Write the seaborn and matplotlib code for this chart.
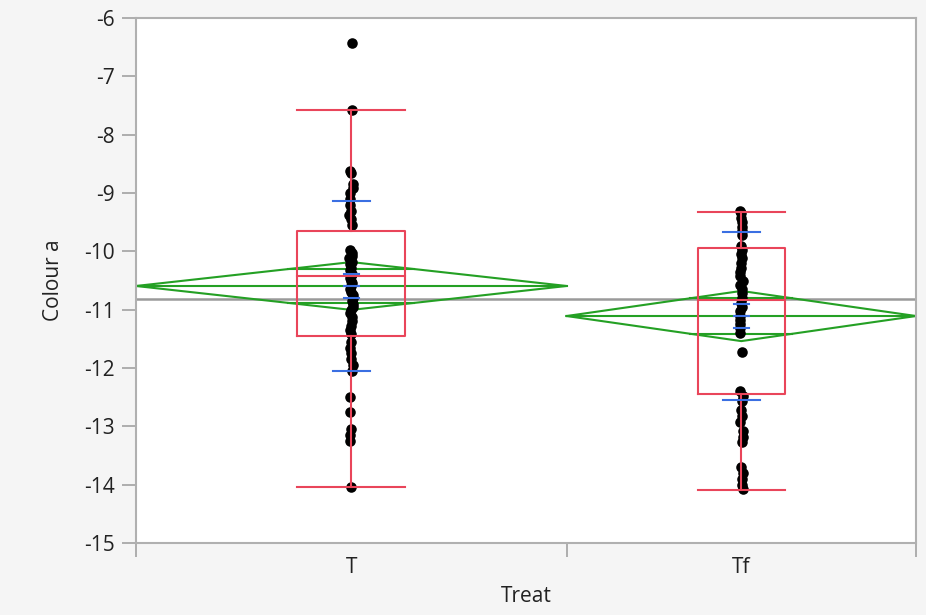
import numpy as np
import pandas as pd
import seaborn as sns
import matplotlib.pyplot as plt

# Datos (valores de Colour a por tratamiento)
grupos = ["T", "Tf"]
valores_T = [-6.43, -7.57,
             -8.62, -8.66, -8.85, -8.92, -9.0, -9.1, -9.2, -9.3, -9.38, -9.45, -9.55,
             -9.97, -10.02, -10.08, -10.12, -10.18, -10.22, -10.28, -10.32, -10.38, -10.42,
             -10.45, -10.5, -10.55, -10.6, -10.65, -10.7, -10.75, -10.8, -10.85, -10.9,
             -10.95, -11.0,
             -11.05, -11.12, -11.2, -11.28, -11.35, -11.42,
             -11.55, -11.65, -11.75, -11.85, -11.95, -12.05,
             -12.5, -12.75, -13.05, -13.15, -13.25, -14.04]
valores_Tf = [-9.3, -9.35, -9.42, -9.5, -9.58, -9.65, -9.72,
              -9.9, -9.98, -10.05, -10.12, -10.2, -10.28, -10.35, -10.42, -10.5, -10.58,
              -10.65, -10.72, -10.8, -10.88, -10.95, -11.02, -11.1, -11.18, -11.25, -11.32,
              -11.4,
              -11.72,
              -12.4, -12.48, -12.56, -12.72, -12.82, -12.92, -13.08, -13.18, -13.26,
              -13.7, -13.8, -13.9, -14.0, -14.08]

# Resumenes
medias = [-10.594, -11.109]
ic95 = [0.41, 0.43]            # media +/- IC (diamantes)
errores = [0.2, 0.21]          # barras de error de la media
desv = [1.45, 1.44]            # lineas de desviacion estandar
q1 = [-11.45, -12.45]
medianas = [-10.43, -10.83]
q3 = [-9.65, -9.94]
bigote_bajo = [-14.04, -14.09]
bigote_alto = [-7.58, -9.33]
media_global = -10.82

df = pd.DataFrame({
    "Treat": ["T"] * len(valores_T) + ["Tf"] * len(valores_Tf),
    "Colour a": valores_T + valores_Tf,
})

# Ancho de cada grupo proporcional a su tamano (como en JMP)
n = np.array([len(valores_T), len(valores_Tf)])
frac = n[0] / n.sum()
medio_ancho = [frac, 1 - frac]
centros = [0, 1]

np.random.seed(3)
plt.rcParams['font.family'] = ['Open Sans', 'DejaVu Sans']
fig = plt.figure(figsize=(9.26, 6.15), dpi=100, facecolor="#f5f5f5")
ax = fig.add_axes([136 / 926, 72 / 615, 780 / 926, 525 / 615])
ax.set_facecolor("white")

rojo = "#e9455a"
verde = "#24a024"
azul = "#3a6fe2"
lw = 1.5

# linea de la media global
ax.axhline(media_global, color="#9a9a9a", lw=1.8, zorder=1)

# diamantes de medias
for c, w, m, ic in zip(centros, medio_ancho, medias, ic95):
    ax.plot([c - w, c, c + w, c, c - w], [m, m + ic, m, m - ic, m], color=verde, lw=lw, zorder=2)
    ax.plot([c - w, c + w], [m, m], color=verde, lw=lw, zorder=2)
    h = ic / np.sqrt(2)
    wo = w * (1 - h / ic)
    for s in (1, -1):
        ax.plot([c - wo, c + wo], [m + s * h, m + s * h], color=verde, lw=lw, zorder=2)

# puntos
sns.stripplot(data=df, x="Treat", y="Colour a", order=grupos, color="black",
              size=7.6, jitter=0.005, linewidth=0, ax=ax, zorder=3)

# cajas
for c, w, a, b, md, lo, hi in zip(centros, medio_ancho, q1, q3, medianas, bigote_bajo, bigote_alto):
    bw = w / 2
    ax.plot([c - bw / 2, c + bw / 2, c + bw / 2, c - bw / 2, c - bw / 2], [a, a, b, b, a],
            color=rojo, lw=lw, zorder=4)
    ax.plot([c - bw / 2, c + bw / 2], [md, md], color=rojo, lw=lw, zorder=4)
    ax.plot([c, c], [b, hi], color=rojo, lw=lw, zorder=4)
    ax.plot([c, c], [a, lo], color=rojo, lw=lw, zorder=4)
    for y in (lo, hi):
        ax.plot([c - bw / 2, c + bw / 2], [y, y], color=rojo, lw=lw, zorder=4)

# desviacion estandar y error de la media
for c, m, sd, se in zip(centros, medias, desv, errores):
    for y in (m - sd, m + sd):
        ax.plot([c - 0.048, c + 0.048], [y, y], color=azul, lw=lw, zorder=5)
    for y in (m - se, m, m + se):
        ax.plot([c - 0.02, c + 0.02], [y, y], color=azul, lw=lw, zorder=5)

# ejes
ax.set_xlim(-medio_ancho[0], 1 + medio_ancho[1])
ax.set_ylim(-15, -6)
ax.set_yticks(np.arange(-15, -5, 1))
ax.set_yticklabels([str(v) for v in range(-15, -5)])
ax.set_xticks([-medio_ancho[0], frac, 1 + medio_ancho[1]])
ax.set_xticklabels([])
ax.set_xticks(centros, minor=True)
ax.set_xticklabels(grupos, minor=True)
ax.tick_params(axis="both", which="major", length=10, width=1.3, color="#a8a8a8",
               labelsize=15, labelcolor="#222222")
ax.tick_params(axis="x", which="minor", length=0, labelsize=15, labelcolor="#222222", pad=10)
ax.tick_params(axis="y", pad=5)
for s in ax.spines.values():
    s.set_color("#b0b0b0")
    s.set_linewidth(1.5)
ax.set_xlabel("Treat", fontsize=15, color="#222222", labelpad=6)
ax.set_ylabel("Colour a", fontsize=15, color="#222222", labelpad=15)

fig.savefig("out.png", dpi=100, facecolor=fig.get_facecolor())
